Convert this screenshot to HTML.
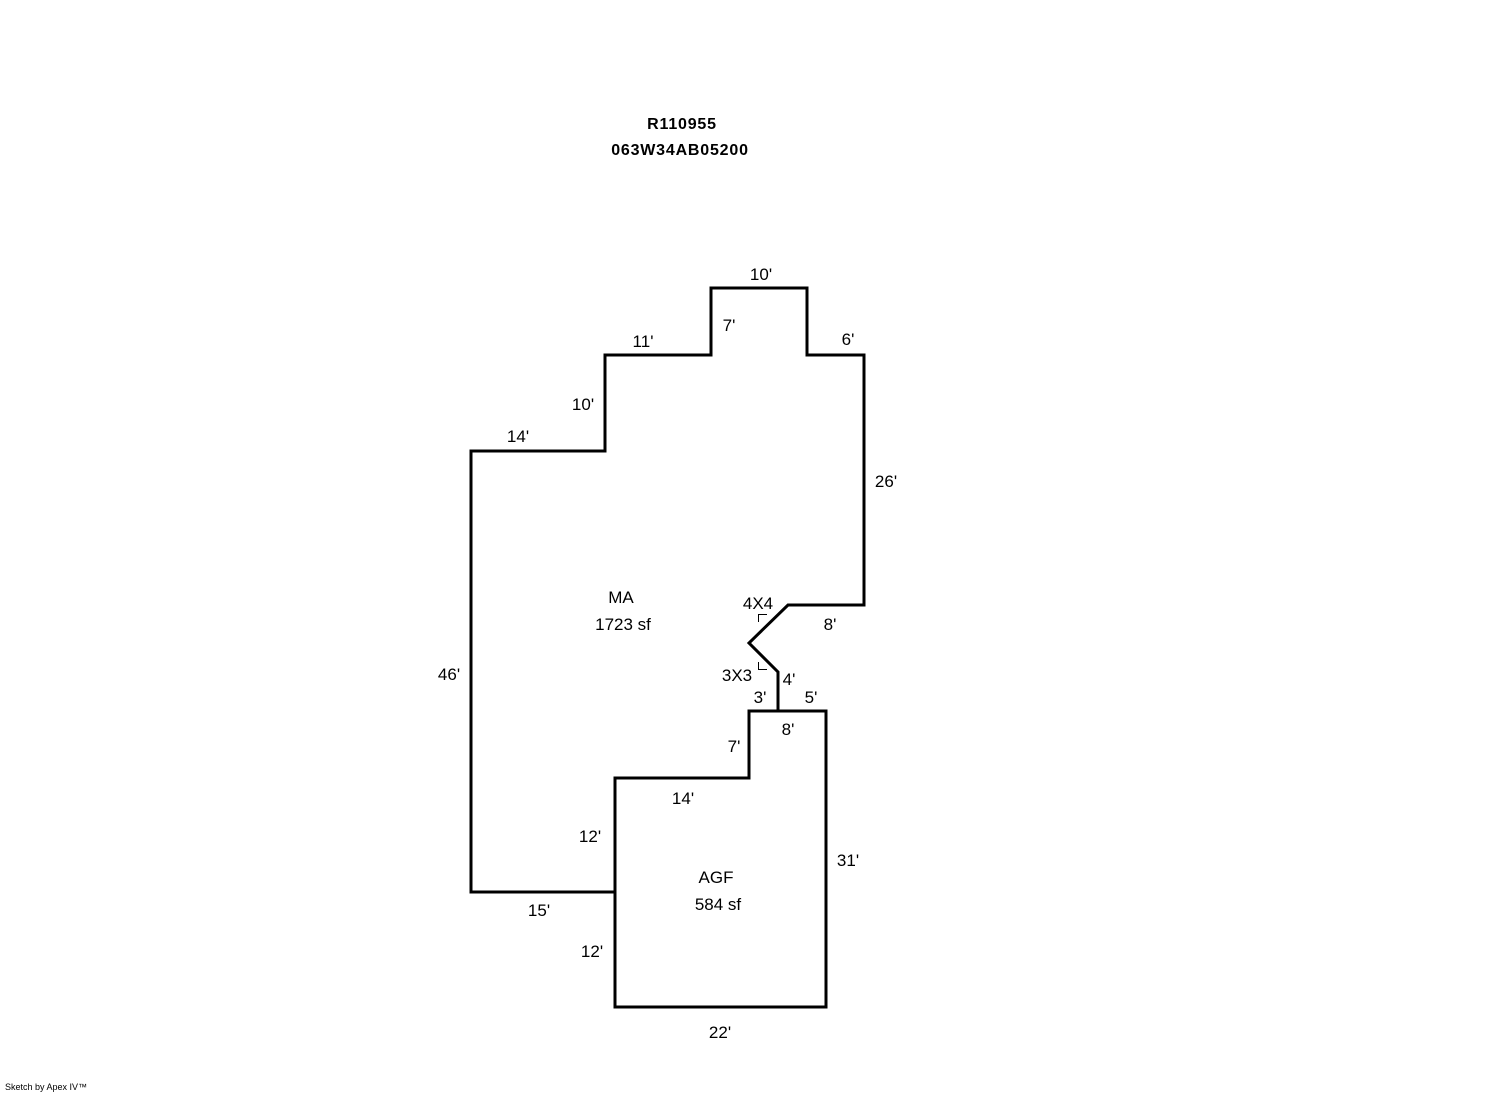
<!DOCTYPE html>
<html><head><meta charset="utf-8"><style>
html,body{margin:0;padding:0;background:#fff;}
svg{display:block;}
text{font-family:"Liberation Sans",Arial,sans-serif;font-size:17px;fill:#000;}
.b{font-weight:bold;font-size:16px;letter-spacing:0.8px;}
</style></head><body>
<svg width="1492" height="1094" viewBox="0 0 1492 1094" xmlns="http://www.w3.org/2000/svg">
<g fill="none" stroke="#000" stroke-width="3" stroke-linejoin="miter">
<polyline points="615,892 471,892 471,451 605,451 605,355 711,355 711,288 807,288 807,355 864,355 864,605 788,605 749,643 778,672 778,711"/>
<polygon points="749,711 826,711 826,1007 615,1007 615,778 749,778"/>
</g>
<g fill="none" stroke="#000" stroke-width="1">
<polyline points="758.5,622 758.5,614.5 767,614.5"/>
<polyline points="758.5,662 758.5,669.5 767,669.5"/>
</g>
<text class="b" x="682" y="129" text-anchor="middle">R110955</text>
<text class="b" x="680" y="155" text-anchor="middle">063W34AB05200</text>
<text x="761" y="280" text-anchor="middle">10'</text>
<text x="729" y="331" text-anchor="middle">7'</text>
<text x="643" y="347" text-anchor="middle">11'</text>
<text x="848" y="345" text-anchor="middle">6'</text>
<text x="583" y="410" text-anchor="middle">10'</text>
<text x="518" y="442" text-anchor="middle">14'</text>
<text x="886" y="487" text-anchor="middle">26'</text>
<text x="621" y="603" text-anchor="middle">MA</text>
<text x="623" y="630" text-anchor="middle">1723 sf</text>
<text x="758" y="609" text-anchor="middle">4X4</text>
<text x="830" y="630" text-anchor="middle">8'</text>
<text x="737" y="681" text-anchor="middle">3X3</text>
<text x="789" y="685" text-anchor="middle">4'</text>
<text x="760" y="703" text-anchor="middle">3'</text>
<text x="811" y="703" text-anchor="middle">5'</text>
<text x="788" y="735" text-anchor="middle">8'</text>
<text x="734" y="752" text-anchor="middle">7'</text>
<text x="449" y="680" text-anchor="middle">46'</text>
<text x="683" y="804" text-anchor="middle">14'</text>
<text x="590" y="842" text-anchor="middle">12'</text>
<text x="848" y="866" text-anchor="middle">31'</text>
<text x="716" y="883" text-anchor="middle">AGF</text>
<text x="718" y="910" text-anchor="middle">584 sf</text>
<text x="539" y="916" text-anchor="middle">15'</text>
<text x="592" y="957" text-anchor="middle">12'</text>
<text x="720" y="1038" text-anchor="middle">22'</text>
<text x="5" y="1090" style="font-size:9px">Sketch by Apex IV™</text>
</svg>
</body></html>
